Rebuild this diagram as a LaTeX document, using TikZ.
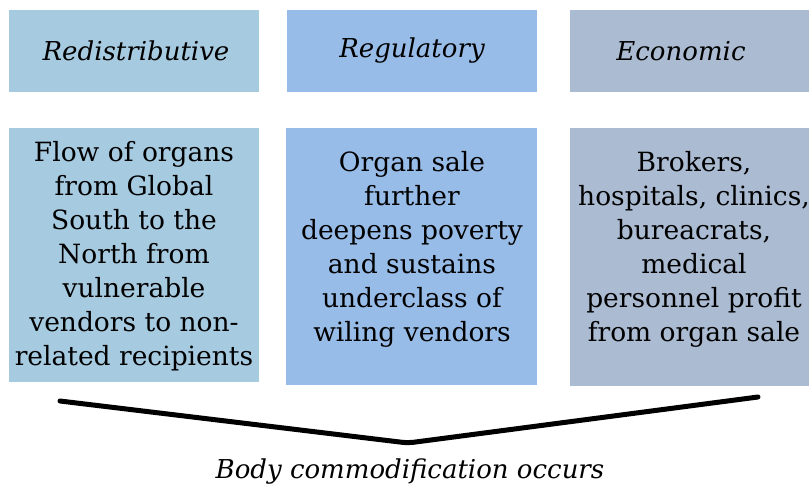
\documentclass[tikz,border=0pt]{standalone}
\usepackage{fontspec}
\setmainfont{DejaVu Serif}

\definecolor{redisblue}{RGB}{166,202,224}
\definecolor{regulblue}{RGB}{152,188,232}
\definecolor{econblue}{RGB}{170,187,210}

\tikzset{
  headbox/.style={inner sep=0pt, font=\fontsize{26}{30}\selectfont\itshape},
  bodybox/.style={inner sep=0pt, align=center, font=\fontsize{26.5}{34}\selectfont},
}

\begin{document}
\begin{tikzpicture}[x=1pt,y=-1pt]
  \useasboundingbox (0,0) rectangle (809,493);
  \clip (0,0) rectangle (809,493);

  % --- row of headings ---
  \fill[redisblue] (9,10) rectangle (259,92);
  \node[headbox] (redis) at (136,51) {Redistributive};
  \fill[regulblue] (287,10) rectangle (537,92);
  \node[headbox] (regul) at (412,51) {Regulatory};
  \fill[econblue] (570,10) rectangle (820,92);
  \node[headbox] (econ) at (681,51) {Economic};

  % --- descriptions ---
  \fill[redisblue] (9,128) rectangle (259,382);
  \node[bodybox] (redisTxt) at (134,256) {Flow of organs\\from Global\\South to the\\North from\\vulnerable\\vendors to non-\\related recipients};

  \fill[regulblue] (286,128) rectangle (537,385);
  \node[bodybox] (regulTxt) at (412,249) {Organ sale\\further\\deepens poverty\\and sustains\\underclass of\\wiling vendors};

  \fill[econblue] (570,128) rectangle (820,386);
  \node[bodybox] (econTxt) at (694,249) {Brokers,\\hospitals, clinics,\\bureacrats,\\medical\\personnel profit\\from organ sale};

  % --- brace and outcome ---
  \coordinate (braceL) at (60,401);
  \coordinate (braceM) at (408,443);
  \coordinate (braceR) at (758,397);
  \draw[line width=5pt, line cap=round, rounded corners=6pt] (braceL) -- (braceM) -- (braceR);
  \node[font=\fontsize{26}{30}\selectfont\itshape] (outcome) at (410,472) {Body commodification occurs};

\end{tikzpicture}
\end{document}
